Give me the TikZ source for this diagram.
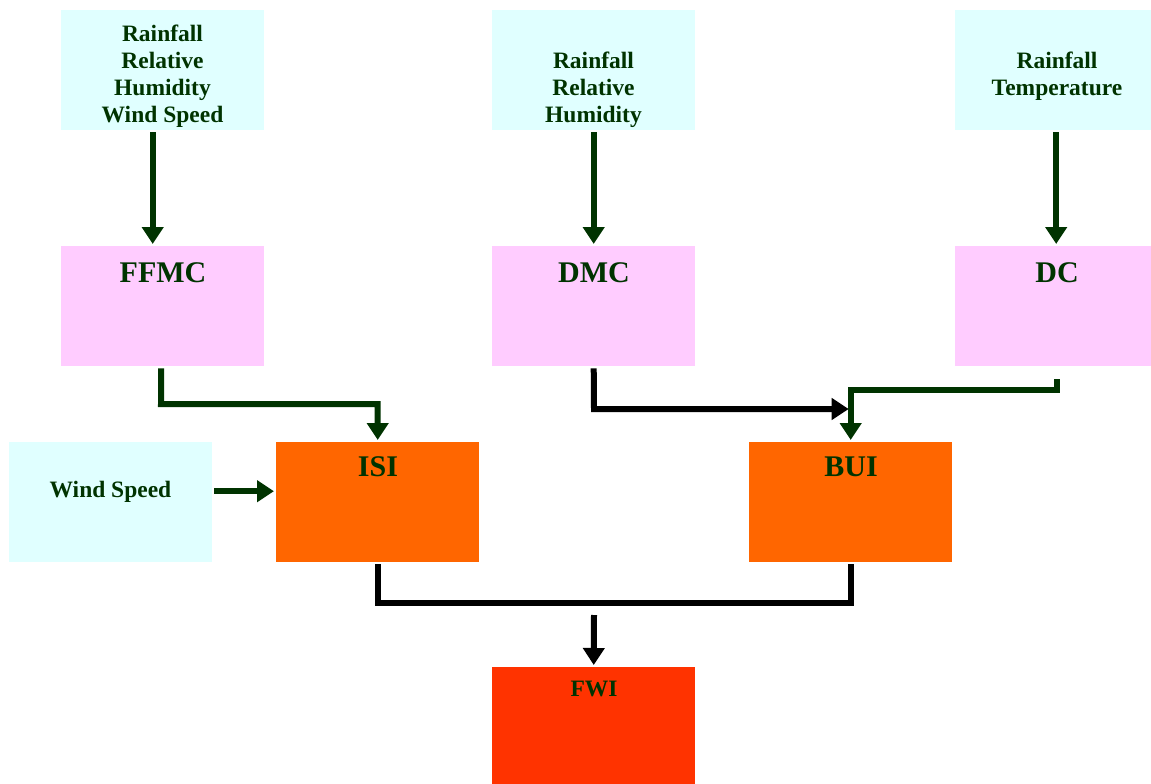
\documentclass[tikz,border=0pt]{standalone}
\usepackage{fontspec}
\setmainfont{Liberation Serif}
\usetikzlibrary{arrows.meta}
\definecolor{incyan}{HTML}{E0FFFF}
\definecolor{codepink}{HTML}{FFCCFF}
\definecolor{idxorange}{HTML}{FF6600}
\definecolor{fwired}{HTML}{FF3300}
\definecolor{dkgreen}{HTML}{003300}
\tikzset{
  box/.style={draw=none, rectangle, anchor=north west, inner sep=0pt,
              minimum width=#1, minimum height=120pt},
  inbox/.style={box=203pt, fill=incyan},
  codebox/.style={box=203pt, fill=codepink},
  idxbox/.style={box=203pt, fill=idxorange},
  fwibox/.style={box=203pt, fill=fwired, minimum height=117pt},
  smalltxt/.style={inner sep=0pt, text=dkgreen, align=center,
              font=\fontsize{23.5}{27}\selectfont\bfseries},
  bigtxt/.style={inner sep=0pt, text=dkgreen, anchor=base,
              font=\fontsize{30}{34}\selectfont\bfseries},
  tip/.style={-{Triangle[length=17pt 0 0,width=21pt 0 0]}},
  garrow/.style={draw=dkgreen, line width=6pt, tip, shorten <=2pt, shorten >=2pt},
  barrow/.style={draw=black, line width=6pt, tip, shorten <=2pt, shorten >=2pt},
  bline/.style={draw=black, line width=6pt, shorten <=2pt, shorten >=2pt}
}
\begin{document}
\begin{tikzpicture}[x=1pt,y=-1pt]
\useasboundingbox (0,0) rectangle (1151,784);
% input boxes
\node[inbox] (in1) at (61,10) {};
\node[inbox] (in2) at (492,10) {};
\node[inbox, minimum width=196pt] (in3) at (955,10) {};
\node[inbox] (wind) at (9,442) {};
% code boxes
\node[codebox] (ffmc) at (61,246) {};
\node[codebox] (dmc) at (492,246) {};
\node[codebox, minimum width=196pt] (dc) at (955,246) {};
% index boxes
\node[idxbox] (isi) at (276,442) {};
\node[idxbox] (bui) at (749,442) {};
\node[fwibox] (fwi) at (492,667) {};
% labels
\node[smalltxt, anchor=north] (t1) at (162.5,24.5) {Rainfall\\Relative\\Humidity\\Wind Speed};
\node[smalltxt, anchor=north] (t2) at (593.5,51.5) {Rainfall\\Relative\\Humidity};
\node[smalltxt, anchor=north] (t3) at (1057,51.5) {Rainfall\\Temperature};
\node[smalltxt, anchor=base] (t4) at (110.5,497.5) {Wind Speed};
\node[bigtxt] (t5) at (163,282) {FFMC};
\node[bigtxt] (t6) at (594,282) {DMC};
\node[bigtxt] (t7) at (1057,282) {DC};
\node[bigtxt] (t8) at (378,476) {ISI};
\node[bigtxt] (t9) at (851,476) {BUI};
\node[smalltxt, anchor=base] (t10) at (594,696.5) {FWI};
% coordinates
\coordinate (ffmcturn) at (161,404);
\coordinate (dmcturn) at (594,409);
\coordinate (dcstart) at (1057,379);
\coordinate (dcturn) at (1057,390);
\coordinate (fwiin) at (594,615);
% connectors
\draw[garrow] ([xshift=-10pt]in1.south) -- ([xshift=-10pt]ffmc.north);
\draw[garrow] (in2.south) -- (dmc.north);
\draw[garrow] ([xshift=3pt]in3.south) -- ([xshift=3pt]dc.north);
\draw[garrow] ([xshift=-1.5pt]ffmc.south) -- (ffmcturn) -| (isi.north);
\draw[barrow] (dmc.south) -- (dmcturn) -- (dmcturn -| bui.north);
\draw[garrow, shorten <=0pt] (dcstart) -- (dcturn) -| (bui.north);
\draw[garrow] ([yshift=11pt]wind.east) -- ([yshift=11pt]isi.west);
\draw[bline] (isi.south) -- ++(0,41) -| (bui.south);
\draw[barrow, shorten <=0pt] (fwiin) -- (fwi.north);
\end{tikzpicture}
\end{document}
